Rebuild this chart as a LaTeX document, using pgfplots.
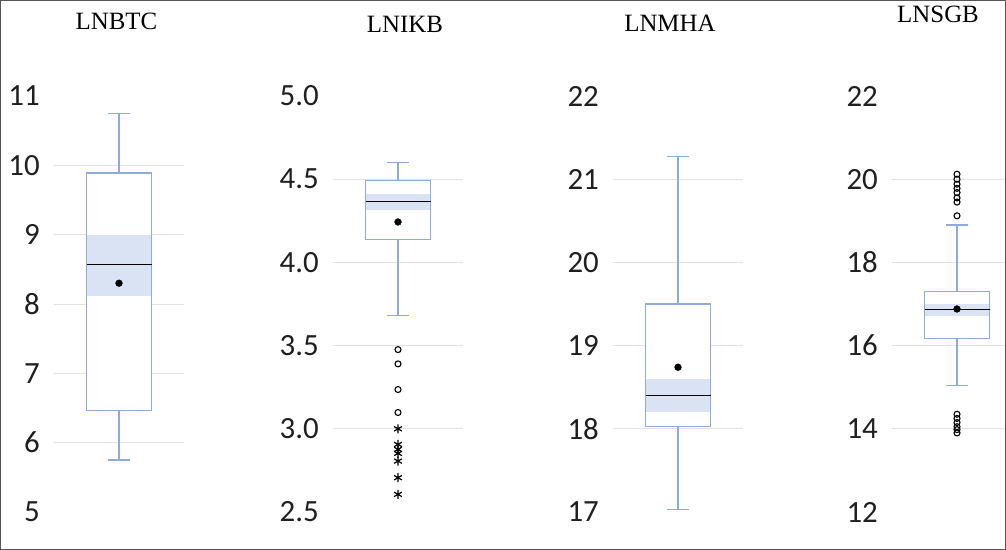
\documentclass[border=0pt]{standalone}
\usepackage{pgfplots}
\pgfplotsset{compat=1.18}
\usepackage{fontspec}
\setmainfont{Liberation Serif}
\newfontfamily\carlito{Carlito}
\definecolor{boxblue}{HTML}{8FAADC}
\definecolor{bandblue}{HTML}{DAE3F3}
\definecolor{gridgray}{HTML}{E2E2E2}
\definecolor{framegray}{HTML}{555555}

\pgfplotsset{
  panel/.style={
    scale only axis, width=130bp, height=416bp,
    xmin=0, xmax=2, xtick=\empty,
    axis line style={draw=none},
    major tick length=0pt,
    ymajorgrids, grid style={gridgray, line width=0.9bp},
    extra y tick style={grid=none},
    /pgf/number format/assume math mode=true,
    yticklabel style={font=\carlito\fontsize{31}{31}\selectfont, text=black!88, inner sep=0pt, xshift=-14bp},
    title style={font=\fontsize{25}{25}\selectfont, anchor=center, inner sep=0pt},
    clip=false, anchor=south west,
  },
  boxline/.style={draw=boxblue, line width=1.1bp, no marks},
  medline/.style={draw=black, line width=1.3bp, no marks},
  meanmark/.style={only marks, mark=*, mark size=3.4bp, black},
  mildout/.style={only marks, mark=o, mark size=3bp, black, line width=1.1bp},
  extout/.style={only marks, mark=asterisk, mark size=4.5bp, black, line width=1.2bp},
}

% #1 lower whisker, #2 lower quartile, #3 median, #4 upper quartile,
% #5 upper whisker, #6 band low, #7 band high, #8 mean
\newcommand{\drawbox}[8]{%
  \addplot[draw=none, fill=white] coordinates {(0.5,#2) (1.5,#2) (1.5,#4) (0.5,#4)} -- cycle;
  \addplot[draw=none, fill=bandblue] coordinates {(0.5,#6) (1.5,#6) (1.5,#7) (0.5,#7)} -- cycle;
  \addplot[boxline] coordinates {(0.5,#2) (1.5,#2) (1.5,#4) (0.5,#4)} -- cycle;
  \addplot[boxline] coordinates {(1,#4) (1,#5)};
  \addplot[boxline] coordinates {(0.835,#5) (1.165,#5)};
  \addplot[boxline] coordinates {(1,#2) (1,#1)};
  \addplot[boxline] coordinates {(0.835,#1) (1.165,#1)};
  \addplot[medline] coordinates {(0.5,#3) (1.5,#3)};
  \addplot[meanmark] coordinates {(1,#8)};
}

\begin{document}
\begin{tikzpicture}
\useasboundingbox (0bp,0bp) rectangle (1006bp,550bp);
\clip (0bp,0bp) rectangle (1006bp,550bp);

% ---------- LNBTC ----------
\begin{axis}[panel, at={(54bp,38bp)}, ymin=5, ymax=11,
  ytick={6,7,8,9,10}, extra y ticks={5,11},
  title={LNBTC}, title style={at={(axis description cs:0.48,1.164)}}]
\drawbox{5.75}{6.47}{8.565}{9.89}{10.75}{8.12}{9.0}{8.30}
\end{axis}

% ---------- LNIKB ----------
\begin{axis}[panel, at={(333bp,38bp)}, ymin=2.5, ymax=5.0,
  ytick={3.0,3.5,4.0,4.5}, extra y ticks={2.5,5.0},
  yticklabel style={/pgf/number format/.cd, fixed, fixed zerofill, precision=1},
  extra y tick style={yticklabel style={/pgf/number format/.cd, fixed, fixed zerofill, precision=1}},
  title={LNIKB}, title style={at={(axis description cs:0.554,1.157)}}]
\drawbox{3.68}{4.137}{4.367}{4.49}{4.60}{4.315}{4.41}{4.243}
\addplot[mildout] coordinates {(1,3.476) (1,3.39) (1,3.236) (1,3.098)};
\addplot[extout] coordinates {(1,3.0) (1,2.906) (1,2.876) (1,2.852) (1,2.806) (1,2.706) (1,2.606)};
\end{axis}

% ---------- LNMHA ----------
\begin{axis}[panel, at={(613bp,38bp)}, ymin=17, ymax=22,
  ytick={18,19,20,21}, extra y ticks={17,22},
  title={LNMHA}, title style={at={(axis description cs:0.438,1.161)}}]
\drawbox{17.03}{18.03}{18.40}{19.50}{21.27}{18.20}{18.60}{18.74}
\end{axis}

% ---------- LNSGB ----------
\begin{axis}[panel, at={(892bp,38bp)}, ymin=12, ymax=22,
  ytick={14,16,18,20}, extra y ticks={12,22},
  title={LNSGB}, title style={at={(axis description cs:0.354,1.181)}}]
\drawbox{15.05}{16.16}{16.86}{17.30}{18.90}{16.72}{17.0}{16.88}
\addplot[mildout] coordinates {(1,20.12) (1,20.0) (1,19.88) (1,19.78) (1,19.68) (1,19.55) (1,19.45) (1,19.12)
  (1,14.35) (1,14.25) (1,14.15) (1,14.05) (1,13.98) (1,13.9)};
\end{axis}

\draw[framegray, line width=1bp] (0.5bp,0.5bp) rectangle (1005.5bp,549.5bp);
\end{tikzpicture}
\end{document}
